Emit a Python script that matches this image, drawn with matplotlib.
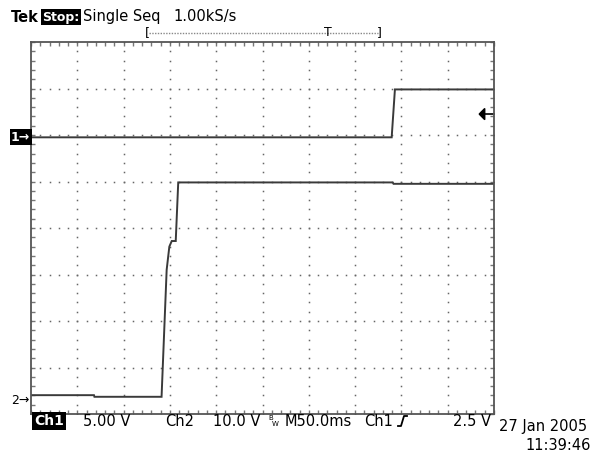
import numpy as np
import matplotlib
matplotlib.use("Agg")
import matplotlib.pyplot as plt
from matplotlib.lines import Line2D
from matplotlib.patches import Polygon

# scope settings
time_per_div = 50.0      # ms/div
ch1_scale = 5.0          # V/div
ch2_scale = 10.0         # V/div
ch1_offset = 1.95        # divisions above centre
ch2_offset = -3.70       # divisions
trig_level = 2.5         # V on ch1

# channel 1 trace (time in ms from left of screen, volts)
ch1_t = [0.0, 389.5, 393.0, 500.0]
ch1_v = [0.0, 0.0, 5.15, 5.15]

# channel 2 trace
ch2_t = [0.0, 68.0, 68.5, 141.0, 146.5, 149.4, 152.0, 156.3, 159.0, 390.6, 391.5, 500.0]
ch2_v = [1.05, 1.05, 0.7, 0.7, 28.0, 33.0, 34.2, 34.2, 46.8, 46.8, 46.5, 46.5]

W, H = 591, 451
fig = plt.figure(figsize=(W / 100, H / 100), dpi=100)
fig.patch.set_facecolor("white")

L, T, R, B = 31, 42, 494, 414
ax = fig.add_axes([L / W, 1 - B / H, (R - L) / W, (B - T) / H])
ax.set_xlim(0, 10 * time_per_div)
ax.set_ylim(-4, 4)
for s in ax.spines.values():
    s.set_color("#555555")
    s.set_linewidth(1.3)

# edge ticks every 1/5 division
ax.set_xticks(np.arange(0, 501, 50))
ax.set_xticks(np.arange(0, 501, 10), minor=True)
ax.set_yticks(np.arange(-4, 4.01, 1))
ax.set_yticks(np.arange(-4, 4.01, 0.2), minor=True)
ax.tick_params(which="both", direction="in", length=3, width=1, color="#777777",
               top=True, right=True, labelbottom=False, labelleft=False)

# dotted graticule
dot = dict(ls="none", marker="s", ms=1.1, mew=0, color="#666666")
ydots = np.arange(-4, 4.01, 0.2)
xdots = np.arange(0, 501, 10)
for k in range(1, 10):
    ax.plot(np.full_like(ydots, k * time_per_div), ydots, **dot)
for k in range(-3, 4):
    ax.plot(xdots, np.full_like(xdots, k, dtype=float), **dot)

# traces
y1 = np.array(ch1_v) / ch1_scale + ch1_offset
y2 = np.array(ch2_v) / ch2_scale + ch2_offset
ax.plot(ch1_t, y1, color="#3a3a3a", lw=1.4, solid_joinstyle="miter")
ax.plot(ch2_t, y2, color="#3a3a3a", lw=1.4, solid_joinstyle="miter")

# trigger level arrow on the right edge
ty = trig_level / ch1_scale + ch1_offset
ax.add_patch(Polygon([[484, ty], [490, ty + 0.12], [490, ty - 0.12]], closed=True,
                     color="black", clip_on=False))
ax.plot([489, 500], [ty, ty], color="black", lw=1.2, clip_on=False)


def fx(x):
    return x / W


def fy(y):
    return 1 - y / H


font = dict(family="DejaVu Sans", fontsize=10.5, va="center")
inv = dict(boxstyle="square,pad=0.12", fc="black", ec="none")

# top status line
fig.text(fx(11), fy(17), "Tek", weight="bold", **font)
fig.text(fx(42), fy(17), "Stop:", color="white", weight="bold", bbox=inv,
         family="DejaVu Sans", fontsize=9, va="center")
fig.text(fx(83), fy(17), "Single Seq", **font)
fig.text(fx(173), fy(17), "1.00kS/s", **font)

# record bracket with trigger position
fig.text(fx(145), fy(33), "[", fontsize=9, va="center")
fig.text(fx(377), fy(33), "]", fontsize=9, va="center")
fig.add_artist(Line2D([fx(149), fx(378)], [fy(33), fy(33)], color="#888888",
                      lw=1, ls=(0, (1, 1))))
fig.text(fx(328), fy(33), "T", fontsize=9, ha="center", va="center")

# channel ground markers
g1 = 228 - ch1_offset * 46.5
g2 = 228 - ch2_offset * 46.5
fig.text(fx(11), fy(g1), "1\u2192", color="white", weight="bold", bbox=inv,
         fontsize=9, va="center")
fig.text(fx(11), fy(g2), "2\u2192", color="black", fontsize=9, va="center")

# bottom settings line
by = 421
fig.text(fx(34), fy(by), "Ch1", color="white", weight="bold", bbox=inv,
         family="DejaVu Sans", fontsize=10, va="center")
fig.text(fx(83), fy(by), "5.00 V", **font)
fig.text(fx(165), fy(by), "Ch2", **font)
fig.text(fx(213), fy(by), "10.0 V", **font)
fig.text(fx(268), fy(by), "B", fontsize=5, va="bottom")
fig.text(fx(272), fy(by + 3), "W", fontsize=5, va="center")
fig.text(fx(285), fy(by), "M50.0ms", **font)
fig.text(fx(364), fy(by), "Ch1", **font)
fig.add_artist(Line2D([fx(398), fx(401), fx(404), fx(407)],
                      [fy(by + 5), fy(by + 5), fy(by - 5), fy(by - 5)],
                      color="black", lw=1.3))
fig.text(fx(453), fy(by), "2.5 V", **font)
fig.text(fx(499), fy(427), "27 Jan 2005", **font)
fig.text(fx(525), fy(445), "11:39:46", **font)

fig.savefig("out.png", dpi=100, facecolor="white")
